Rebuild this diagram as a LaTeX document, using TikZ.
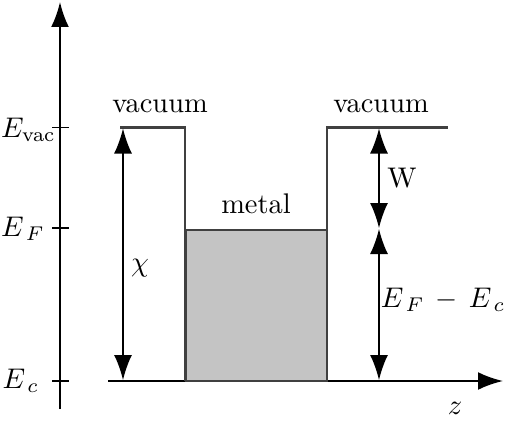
\documentclass[tikz,border=0pt]{standalone}
\usetikzlibrary{arrows.meta}
\begin{document}
\begin{tikzpicture}[x=0.352pt,y=-0.352pt,
  axis/.style={line width=0.75pt,-{Latex[length=8.8pt,width=6.3pt]}},
  wall/.style={line width=0.75pt,draw=black!75},
  dim/.style={line width=0.5pt,{Latex[length=8.8pt,width=6.3pt]}-{Latex[length=8.8pt,width=6.3pt]}},
  lbl/.style={inner sep=1pt},
  elbl/.style={inner sep=0pt,anchor=west}]
\useasboundingbox (0,0) rectangle (521,435);
% axes
\coordinate (yb) at (60,409);
\coordinate (yt) at (60,2);
\coordinate (xl) at (108,381);
\coordinate (xr) at (503,381);
\draw[axis] (yb) -- (yt);
\draw[axis] (xl) -- (xr);
% ticks
\foreach \n/\yy in {vac/127.5,F/228,c/381}{
  \coordinate (t\n a) at (52,\yy);
  \coordinate (t\n b) at (69,\yy);
  \draw[line width=0.6pt] (t\n a) -- (t\n b);
}
\node[elbl] (Evac) at (0.5,130) {$E_{\mathrm{vac}}$};
\node[elbl] (EF) at (0.5,229) {$E_{\,F}$};
\node[elbl] (Ec) at (2,381) {$E_{\,c}$};
% metal box
\draw[wall,fill=black!23] (186,230) rectangle (327,381);
% vacuum potential
\coordinate (vl1) at (120,127.5);
\coordinate (vl2) at (185,127.5);
\coordinate (vl3) at (185,381);
\coordinate (vr1) at (327,381);
\coordinate (vr2) at (327,127.5);
\coordinate (vr3) at (448,127.5);
\draw[wall] (vl1) -- (vl2) -- (vl3);
\draw[wall] (vr1) -- (vr2) -- (vr3);
% dimension arrows
\coordinate (ca) at (123,128.5);
\coordinate (cb) at (123,380);
\draw[dim] (ca) -- (cb);
\coordinate (wa) at (379,128.5);
\coordinate (wb) at (379,228);
\coordinate (ea) at (379,229);
\coordinate (eb) at (379,380);
\draw[dim] (wa) -- (wb);
\draw[dim] (ea) -- (eb);
% labels
\node[lbl] (vacL) at (160,106) {vacuum};
\node[lbl] (vacR) at (381,106) {vacuum};
\node[lbl] (metal) at (256,204) {metal};
\node[lbl] (W) at (402,178) {W};
\node[lbl] (chi) at (140,268) {$\chi$};
\node[lbl] (EFEc) at (443,300) {$E_{\,F}\,-\,E_{\,c}$};
\node[lbl] (z) at (455,408) {$z$};
\end{tikzpicture}
\end{document}
